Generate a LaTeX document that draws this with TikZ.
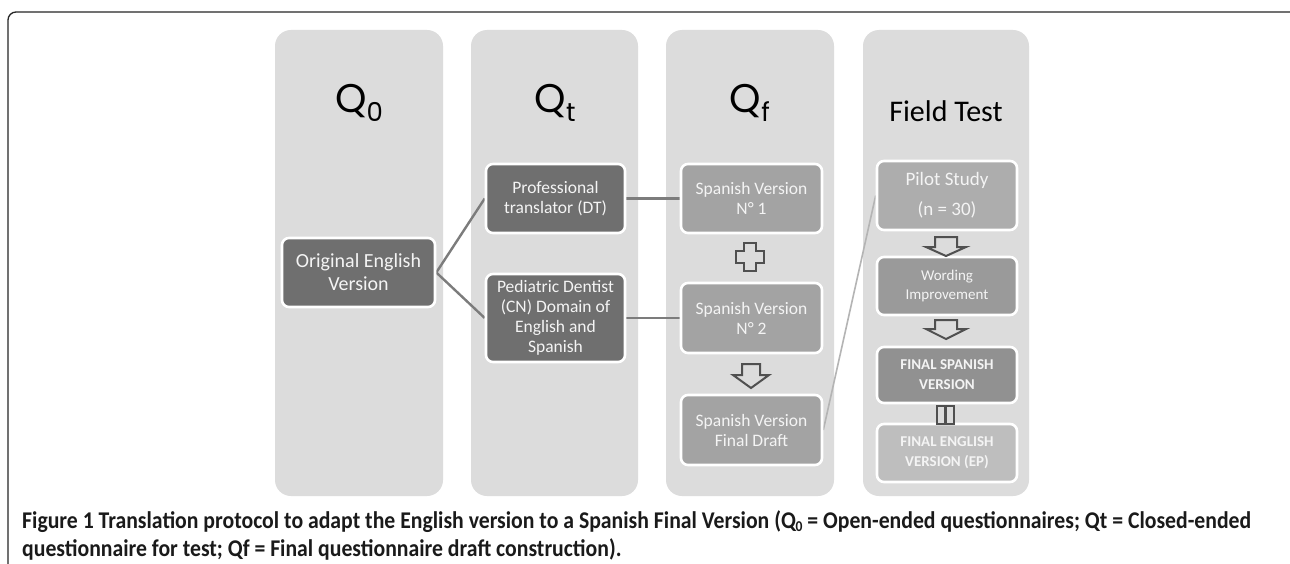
\documentclass[tikz,border=0pt]{standalone}
\usepackage{fontspec}
\setmainfont{Carlito}
\newfontfamily\qfont{Poppins}
\usetikzlibrary{backgrounds}
\definecolor{colbg}{HTML}{DCDCDC}
\definecolor{darkbox}{HTML}{6F6F6F}
\definecolor{spbox}{HTML}{A3A3A3}
\definecolor{pilotbox}{HTML}{ADADAD}
\definecolor{wordbox}{HTML}{9A9A9A}
\definecolor{fspbox}{HTML}{919191}
\definecolor{fenbox}{HTML}{BEBEBE}
\definecolor{boxtxt}{HTML}{F4F4F4}
\definecolor{linkc}{HTML}{7C7C7C}
\definecolor{linklight}{HTML}{B4B4B4}
\definecolor{symc}{HTML}{505050}
\definecolor{captxt}{HTML}{1A1A1A}
\begin{document}
\begin{tikzpicture}[x=1pt,y=-1pt,
  col/.style={fill=colbg, draw=none, rounded corners=16},
  box/.style={draw=white, line width=2.6pt, rounded corners=7, text=boxtxt, align=center, inner sep=0pt, font=\fontsize{17.5}{20}\selectfont},
  link/.style={draw=linkc, line width=2.4pt},
  linkl/.style={draw=linklight, line width=1.6pt},
  sym/.style={draw=symc, line width=2pt, fill=colbg, line join=miter},
  qtitle/.style={anchor=base, inner sep=0pt, text=black, font=\qfont\fontsize{40}{40}\selectfont},
  captxtstyle/.style={anchor=base west, inner sep=0pt, text=captxt, font=\fontsize{24}{27}\selectfont\bfseries}
]
\useasboundingbox (0,0) rectangle (1290,564);

% background, frame and columns
\begin{scope}[on background layer]
  \fill[white] (0,0) rectangle (1290,564);
  \draw[line width=1.3pt, black!85, rounded corners=8] (8,580) -- (8,12) -- (1298,12) -- (1298,580);
  \path[col] (275,30) rectangle (443,496);
  \path[col] (471,30) rectangle (638,496);
  \path[col] (666,30) rectangle (834,496);
  \path[col] (863,30) rectangle (1029,496);
\end{scope}

% titles
\node[qtitle] (t0) at (359,113) {Q\raisebox{-9pt}{\fontsize{26}{26}\selectfont 0}};
\node[qtitle] (t1) at (555,113) {Q\raisebox{-9pt}{\fontsize{26}{26}\selectfont t}};
\node[qtitle] (t2) at (750,113) {Q\raisebox{-9pt}{\fontsize{26}{26}\selectfont f}};
\node[anchor=base, inner sep=0pt, font=\fontsize{30}{30}\selectfont] (t3) at (946,122) {Field Test};

% boxes
\node[box, fill=darkbox, minimum width=153pt, minimum height=69pt, font=\fontsize{20}{23}\selectfont] (orig) at (358.5,272.5) {Original English\\Version};
\node[box, fill=darkbox, minimum width=139pt, minimum height=69pt] (prof) at (555.5,198.5) {Professional\\translator (DT)};
\node[box, fill=darkbox, minimum width=139pt, minimum height=88pt] (ped) at (555.5,318) {Pediatric Dentist\\(CN) Domain of\\English and\\Spanish};
\node[box, fill=spbox, minimum width=141pt, minimum height=69pt] (sv1) at (751.5,198.5) {Spanish Version\\N° 1};
\node[box, fill=spbox, minimum width=141pt, minimum height=70pt] (sv2) at (751.5,318) {Spanish Version\\N° 2};
\node[box, fill=spbox, minimum width=141pt, minimum height=70pt] (svf) at (751.5,430) {Spanish Version\\Final Draft};
\node[box, fill=pilotbox, minimum width=140pt, minimum height=69pt, font=\fontsize{19}{30}\selectfont] (pilot) at (947,195.5) {Pilot Study\\(n = 30)};
\node[box, fill=wordbox, minimum width=140pt, minimum height=58pt, font=\fontsize{15}{20}\selectfont] (word) at (947,286) {Wording\\Improvement};
\node[box, fill=fspbox, minimum width=140pt, minimum height=56pt, font=\fontsize{15}{20}\selectfont\bfseries] (fsp) at (947,375) {FINAL SPANISH\\VERSION};
\node[box, fill=fenbox, minimum width=140pt, minimum height=58pt, font=\fontsize{15}{20}\selectfont\bfseries] (fen) at (947,453) {FINAL ENGLISH\\VERSION (EP)};

% connectors
\begin{scope}[on background layer]
  \draw[link] (orig.east) -- (prof.west);
  \draw[link] (orig.east) -- (ped.west);
  \draw[link] (prof.east) -- (sv1.west);
  \draw[link] (ped.east) -- (sv2.west);
  \draw[linkl] (svf.east) -- (pilot.west);
\end{scope}

% symbols
\draw[sym] (744,243) -- (756,243) -- (756,251) -- (764,251) -- (764,263) -- (756,263) -- (756,271) -- (744,271) -- (744,263) -- (736,263) -- (736,251) -- (744,251) -- cycle;
\draw[sym] (742,364) -- (760,364) -- (760,375) -- (769,375) -- (751,388) -- (733,375) -- (742,375) -- cycle;
\draw[sym] (935,237) -- (957,237) -- (957,247) -- (966,247) -- (946,256) -- (926,247) -- (935,247) -- cycle;
\draw[sym] (935,320) -- (957,320) -- (957,329) -- (966,329) -- (946,339) -- (926,329) -- (935,329) -- cycle;
\draw[sym, line width=1.8pt] (937,406) rectangle (945,424);
\draw[sym, line width=1.8pt] (946,406) rectangle (954,424);

% caption
\node[captxtstyle] (cap1) at (22,528) {\scalebox{0.905}[1]{Figure 1 Translation protocol to adapt the English version to a Spanish Final Version (Q\raisebox{-3pt}{\fontsize{15}{15}\selectfont 0} = Open-ended questionnaires; Qt = Closed-ended}};
\node[captxtstyle] (cap2) at (22,556) {\scalebox{0.905}[1]{questionnaire for test; Qf = Final questionnaire draft construction).}};
\end{tikzpicture}
\end{document}
